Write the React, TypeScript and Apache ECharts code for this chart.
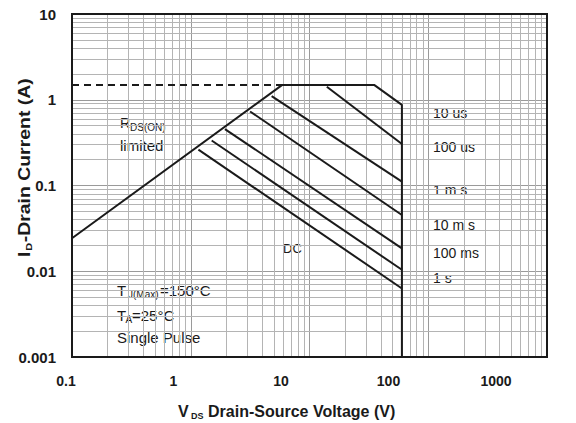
import React, { useEffect, useRef } from "react";
import * as echarts from "echarts";

// Tick labels
const xTickLabels = ["0.1", "1", "10", "100", "1000"];
const yTickLabels = ["0.001", "0.01", "0.1", "1", "10"];

// Minor grid values (log decades x mantissas)
const xDecades = [0.1, 1, 10, 100];
const yDecades = [0.001, 0.01, 0.1, 1];
const mantissas = [2, 3, 4, 5, 6, 7, 8, 9];

// SOA curves: [VDS (V), ID (A)]
const rdsDashed = [[0.1, 1.49], [5.9, 1.49]];
const soaEnvelope = [[0.1, 0.0243], [5.9, 1.49], [35, 1.49], [60, 0.87], [60, 0.001]];
const pulse10us = [[14, 1.42], [60, 0.305]];
const pulse100us = [[4.8, 1.1], [60, 0.111]];
const pulse1ms = [[3.16, 0.73], [60, 0.0453]];
const pulse10ms = [[1.94, 0.455], [60, 0.0185]];
const pulse100ms = [[1.5, 0.335], [60, 0.0104]];
const pulseDC = [[1.16, 0.262], [60, 0.0063]];

const pulseLabels = ["10 us", "100 us", "1 m s", "10 m s", "100 ms", "1 s"];

const FONT = "'Liberation Sans', Arial, sans-serif";
const INK = "#1a1a1a";

function txt(x: number, y: number, text: string, fontSize: number, bold = false): any {
  return {
    type: "text",
    x,
    y,
    silent: true,
    style: {
      text,
      fontSize,
      fontFamily: FONT,
      fontWeight: bold ? "bold" : "normal",
      fill: INK,
      align: "left",
      verticalAlign: "middle",
    },
  };
}

export default function App() {
  const ref = useRef<HTMLDivElement>(null);

  useEffect(() => {
    if (!ref.current) return;
    const chart = echarts.init(ref.current, undefined, { renderer: "svg" });

    const gridLines: any[] = [];
    xDecades.forEach((d) =>
      mantissas.forEach((m) => gridLines.push({ coords: [[d * m, 0.001], [d * m, 10]] }))
    );
    yDecades.forEach((d) =>
      mantissas.forEach((m) => gridLines.push({ coords: [[0.1, d * m], [1000, d * m]] }))
    );

    const curve = (data: number[][], dashed = false) => ({
      type: "line",
      data,
      xAxisIndex: 0,
      yAxisIndex: 0,
      symbol: "none",
      showSymbol: false,
      silent: true,
      z: 3,
      lineStyle: { color: INK, width: 2, type: dashed ? [7, 5] : "solid" },
    });

    const labelYs = [113, 147, 190, 225, 253, 278];

    const option: any = {
      animation: false,
      grid: [
        {
          left: 72,
          top: 14,
          width: 475,
          height: 343,
          show: true,
          borderColor: INK,
          borderWidth: 2,
          backgroundColor: "transparent",
          z: 5,
        },
        { left: 66, top: 14, width: 430, height: 343, show: false },
      ],
      xAxis: [
        {
          type: "log",
          logBase: 10,
          min: 0.1,
          max: 1000,
          gridIndex: 0,
          axisLine: { show: false },
          axisTick: { show: false },
          axisLabel: { show: false },
          splitLine: { show: true, lineStyle: { color: "#9a9a9a", width: 1 } },
        },
        {
          type: "log",
          logBase: 10,
          min: 0.1,
          max: 1000,
          gridIndex: 1,
          axisLine: { show: false },
          axisTick: { show: false },
          splitLine: { show: false },
          axisLabel: {
            show: true,
            margin: 17,
            fontSize: 14,
            fontWeight: "bold",
            fontFamily: FONT,
            color: INK,
            formatter: (v: number) => xTickLabels[Math.round(Math.log10(v)) + 1] ?? "",
          },
        },
      ],
      yAxis: [
        {
          type: "log",
          logBase: 10,
          min: 0.001,
          max: 10,
          gridIndex: 0,
          axisLine: { show: false },
          axisTick: { show: false },
          splitLine: { show: true, lineStyle: { color: "#9a9a9a", width: 1 } },
          axisLabel: {
            show: true,
            margin: 16,
            fontSize: 15,
            fontWeight: "bold",
            fontFamily: FONT,
            color: INK,
            formatter: (v: number) => yTickLabels[Math.round(Math.log10(v)) + 3] ?? "",
          },
        },
        {
          type: "log",
          logBase: 10,
          min: 0.001,
          max: 10,
          gridIndex: 1,
          show: false,
        },
      ],
      series: [
        {
          type: "lines",
          coordinateSystem: "cartesian2d",
          xAxisIndex: 0,
          yAxisIndex: 0,
          silent: true,
          z: 1,
          lineStyle: { color: "#b4b4b4", width: 1, opacity: 1 },
          data: gridLines,
        },
        curve(rdsDashed, true),
        curve(soaEnvelope),
        curve(pulse10us),
        curve(pulse100us),
        curve(pulse1ms),
        curve(pulse10ms),
        curve(pulse100ms),
        curve(pulseDC),
      ],
      graphic: [
        // pulse labels
        ...pulseLabels.map((t, i) => txt(433, labelYs[i], t, 14)),
        txt(283, 248, "DC", 13),
        // RDS(ON) limited
        txt(120, 123, "R", 14),
        txt(130, 127, "DS(ON)", 10),
        txt(120, 145, "limited", 15),
        // conditions
        txt(117, 290, "T", 15),
        txt(128, 294, "J(Max)", 10),
        txt(160, 290, "=150°C", 15),
        txt(117, 315, "T", 15),
        txt(125.5, 319, "A", 10),
        txt(132, 315, "=25°C", 15),
        txt(117, 337, "Single Pulse", 15),
        // x axis title
        txt(178, 411.5, "V", 16, true),
        txt(191, 415.5, "DS", 9, true),
        txt(208, 411.5, "Drain-Source Voltage (V)", 16, true),
        // y axis title
        {
          type: "group",
          x: 25,
          y: 167,
          rotation: Math.PI / 2,
          scaleX: 1.215,
          silent: true,
          children: [
            txt(-74, 0, "I", 16, true),
            txt(-69, 4, "D", 9, true),
            txt(-62, 0, "-Drain Current (A)", 16, true),
          ],
        },
      ],
    };

    chart.setOption(option);
    return () => chart.dispose();
  }, []);

  return (
    <div
      ref={ref}
      style={{ position: "absolute", left: 0, top: 0, width: 576, height: 423, background: "#fff" }}
    />
  );
}
